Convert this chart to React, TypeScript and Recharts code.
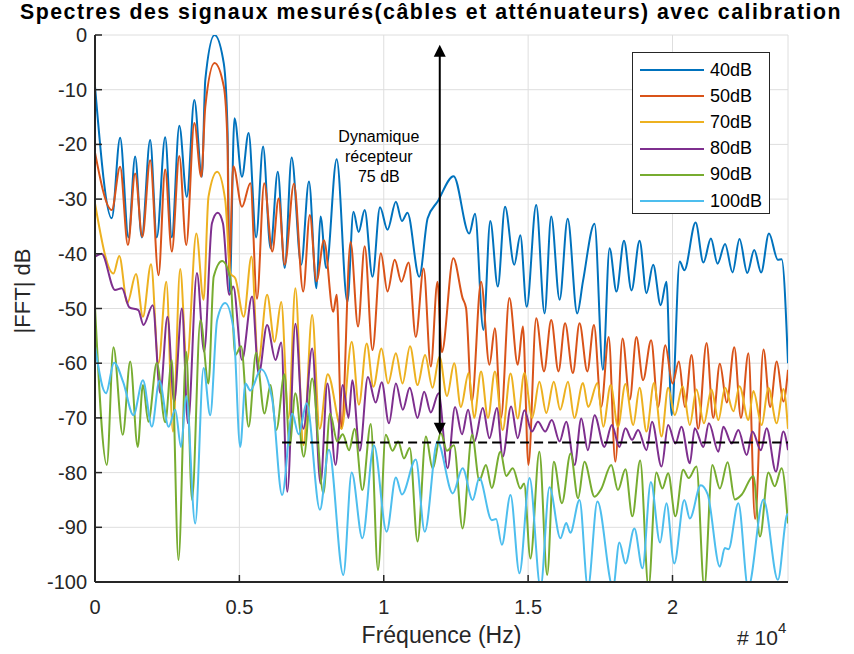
import React from 'react';
import { LineChart, Line, XAxis, YAxis, CartesianGrid, ReferenceLine, ReferenceDot } from 'recharts';

// frequency in units of 1e4 Hz, magnitude in dB
const s40: [number, number][] = [[0,-9.4],[0.058,-33.5],[0.087,-18.8],[0.116,-37],[0.139,-22.2],[0.162,-37],[0.191,-19.2],[0.214,-37],[0.243,-18.7],[0.266,-37],[0.292,-16.6],[0.318,-29.6],[0.344,-11.9],[0.37,-25.9],[0.382,-8.2],[0.414,0],[0.446,-5.2],[0.459,-17.4],[0.466,-47],[0.483,-15.2],[0.509,-25.9],[0.532,-17.9],[0.558,-37],[0.582,-20.4],[0.608,-39],[0.633,-25],[0.657,-42.6],[0.681,-22.4],[0.714,-42],[0.741,-26.8],[0.767,-46.3],[0.781,-33.2],[0.801,-42.6],[0.837,-22.7],[0.874,-48.8],[0.895,-32.3],[0.913,-36],[0.934,-32],[0.961,-44.2],[0.987,-31.5],[1.013,-35.6],[1.042,-30.5],[1.063,-34],[1.082,-32.5],[1.123,-44.2],[1.152,-33.5],[1.186,-30.5],[1.242,-25.8],[1.296,-36.3],[1.316,-32.7],[1.345,-53.9],[1.369,-34],[1.395,-46],[1.42,-31.4],[1.452,-42],[1.473,-36.6],[1.495,-49.7],[1.528,-31.1],[1.557,-50.9],[1.58,-33.2],[1.609,-48.4],[1.637,-33.6],[1.67,-50.9],[1.69,-45],[1.73,-34.5],[1.759,-61.2],[1.782,-39],[1.806,-46.9],[1.832,-37.6],[1.858,-46.7],[1.886,-37.6],[1.91,-47.2],[1.933,-42],[1.959,-49.4],[1.979,-45.1],[1.997,-69.5],[2.025,-41.4],[2.041,-43],[2.08,-34.3],[2.107,-41.6],[2.133,-37.2],[2.156,-41.8],[2.182,-38.2],[2.208,-43.4],[2.232,-37.3],[2.259,-43.5],[2.283,-39.3],[2.307,-43.4],[2.334,-36.3],[2.365,-41.1],[2.378,-41],[2.4,-60]];

const s50: [number, number][] = [[0,-21.5],[0.058,-32],[0.087,-24.1],[0.114,-38.4],[0.139,-25.3],[0.164,-36.9],[0.191,-22.9],[0.22,-43.9],[0.243,-24.6],[0.266,-39.6],[0.292,-22.1],[0.316,-38.4],[0.344,-16.1],[0.368,-25.9],[0.382,-13.1],[0.414,-5.1],[0.446,-9.4],[0.459,-20],[0.464,-44],[0.479,-24],[0.509,-31.4],[0.538,-27.1],[0.561,-48.2],[0.586,-27.1],[0.614,-39.6],[0.636,-29.9],[0.657,-42],[0.689,-27.2],[0.721,-46.9],[0.744,-32.9],[0.767,-45],[0.793,-37.5],[0.825,-50.6],[0.837,-47.5],[0.854,-72],[0.885,-37.8],[0.911,-53.3],[0.934,-38.6],[0.961,-57.6],[0.99,-39.9],[1.013,-46.9],[1.038,-41.1],[1.061,-45.1],[1.086,-41.6],[1.111,-55.2],[1.138,-42.7],[1.163,-60.6],[1.186,-45.1],[1.201,-58],[1.241,-40.8],[1.273,-48.1],[1.285,-49.9],[1.305,-67],[1.337,-45.1],[1.366,-60.3],[1.385,-53.6],[1.406,-70],[1.435,-48.1],[1.464,-60.3],[1.482,-53.3],[1.501,-78.6],[1.528,-51.8],[1.555,-61.5],[1.58,-52.1],[1.605,-61.5],[1.628,-52.7],[1.655,-61.8],[1.678,-52.7],[1.705,-61.5],[1.728,-53],[1.753,-68],[1.779,-55.2],[1.802,-78],[1.827,-55.5],[1.852,-66.7],[1.875,-55.2],[1.898,-63.1],[1.926,-55.8],[1.95,-68],[1.975,-56.7],[2,-63.7],[2.022,-59.7],[2.043,-68],[2.066,-58.5],[2.089,-72],[2.118,-56.3],[2.141,-70],[2.164,-60.1],[2.188,-67.2],[2.214,-57.1],[2.237,-70],[2.263,-58.2],[2.286,-88.5],[2.315,-57.5],[2.338,-68],[2.361,-59.7],[2.384,-67],[2.4,-61.2]];

const s70: [number, number][] = [[0,-30.8],[0.064,-43.6],[0.084,-40.4],[0.112,-49],[0.142,-43.7],[0.166,-51.5],[0.194,-41.9],[0.22,-60],[0.247,-45.1],[0.27,-72.5],[0.295,-42.8],[0.318,-60],[0.351,-36.3],[0.376,-48.4],[0.393,-29.6],[0.423,-25],[0.451,-30.2],[0.469,-43.6],[0.486,-44.5],[0.515,-51.5],[0.542,-40.5],[0.565,-60],[0.596,-47.5],[0.622,-56.1],[0.645,-48.8],[0.67,-70],[0.694,-46.3],[0.722,-75],[0.752,-51.2],[0.778,-72],[0.806,-62],[0.854,-72],[0.889,-56.1],[0.914,-67.6],[0.941,-56.4],[0.964,-64.3],[0.992,-57.3],[1.015,-63.7],[1.042,-58.2],[1.065,-63.7],[1.091,-56.9],[1.117,-64],[1.143,-58.5],[1.169,-64.5],[1.193,-58.8],[1.219,-66],[1.244,-60],[1.267,-68],[1.294,-61.8],[1.313,-70],[1.337,-61.5],[1.361,-70],[1.385,-61.5],[1.412,-72.2],[1.439,-61.9],[1.464,-70.1],[1.487,-61.8],[1.514,-70],[1.539,-63.4],[1.563,-69.1],[1.589,-63.4],[1.611,-68.5],[1.638,-63.4],[1.66,-70],[1.69,-63.6],[1.708,-68],[1.74,-63.6],[1.76,-71.6],[1.786,-64],[1.811,-71.6],[1.837,-63.8],[1.864,-71.3],[1.886,-64.5],[1.91,-72.5],[1.936,-63.6],[1.962,-73.4],[1.985,-64.5],[2.008,-69.5],[2.035,-64.2],[2.06,-71.3],[2.083,-64.8],[2.109,-71],[2.135,-64.8],[2.159,-70.4],[2.182,-64.5],[2.211,-68.8],[2.232,-64.2],[2.263,-70.4],[2.28,-65.1],[2.309,-71.3],[2.332,-64.5],[2.361,-71],[2.384,-64.7],[2.4,-72]];

const s80: [number, number][] = [[0,-40.5],[0.023,-40],[0.069,-46.6],[0.093,-46.3],[0.119,-49.8],[0.15,-50.3],[0.168,-53],[0.2,-49.4],[0.226,-65.5],[0.251,-51.5],[0.274,-67],[0.301,-50],[0.322,-71],[0.353,-43.5],[0.378,-57.9],[0.405,-34.4],[0.425,-32.5],[0.443,-34.4],[0.465,-47.5],[0.479,-46],[0.509,-59.4],[0.544,-47.8],[0.567,-62],[0.596,-53],[0.625,-59.4],[0.645,-56.2],[0.666,-83.5],[0.694,-52.8],[0.722,-72],[0.752,-57.3],[0.781,-82],[0.805,-63.7],[0.833,-78.6],[0.858,-64],[0.878,-70],[0.891,-63.1],[0.917,-76],[0.945,-62.5],[0.972,-67.2],[0.993,-63.5],[1.018,-71],[1.042,-63.7],[1.066,-68.5],[1.09,-64.5],[1.117,-70],[1.14,-65.2],[1.163,-69],[1.19,-65.5],[1.221,-79.2],[1.247,-68],[1.271,-73],[1.292,-68.5],[1.314,-74.3],[1.343,-68.2],[1.366,-73.7],[1.392,-68.2],[1.412,-77.1],[1.441,-67.9],[1.464,-73.7],[1.487,-68.6],[1.513,-72.5],[1.534,-70.7],[1.559,-72.5],[1.582,-70.4],[1.609,-74.3],[1.632,-70.7],[1.661,-78.6],[1.684,-70.1],[1.707,-75.9],[1.73,-69.5],[1.764,-75.3],[1.79,-71.3],[1.816,-75.3],[1.837,-71.9],[1.86,-74],[1.881,-72.2],[1.91,-75.9],[1.929,-70.7],[1.962,-78.9],[1.985,-71.3],[2.01,-74.7],[2.031,-71.6],[2.06,-78.3],[2.077,-71.9],[2.107,-75.3],[2.126,-71],[2.159,-76.2],[2.176,-71.6],[2.205,-74.7],[2.228,-72.2],[2.257,-76.8],[2.277,-72.5],[2.306,-75.9],[2.326,-71.9],[2.358,-79.8],[2.384,-72.5],[2.4,-75.9]];

const s90: [number, number][] = [[0,-49.7],[0.041,-78.6],[0.064,-57.1],[0.096,-73.1],[0.122,-59.7],[0.148,-75.3],[0.166,-64],[0.185,-70.7],[0.214,-59.9],[0.243,-70.8],[0.266,-59.4],[0.289,-96],[0.316,-57.9],[0.336,-85],[0.365,-52.1],[0.393,-63.7],[0.411,-44.2],[0.44,-41.3],[0.469,-44.5],[0.486,-58.5],[0.506,-56.9],[0.532,-71.6],[0.558,-58.1],[0.587,-69.2],[0.608,-64],[0.628,-72.2],[0.656,-62],[0.674,-75],[0.694,-65.5],[0.723,-77.1],[0.752,-62.8],[0.791,-83.8],[0.814,-69.2],[0.839,-74.3],[0.858,-73],[0.88,-75.9],[0.899,-72],[0.926,-83.2],[0.955,-71.1],[0.98,-97.8],[1.007,-73.1],[1.03,-76],[1.05,-74.3],[1.07,-77.4],[1.09,-75.5],[1.117,-92.6],[1.146,-73.4],[1.169,-79.2],[1.198,-72.8],[1.219,-76],[1.243,-75],[1.273,-90.2],[1.306,-73.1],[1.331,-81.4],[1.354,-78.6],[1.374,-82.8],[1.404,-76.2],[1.424,-80.6],[1.447,-79.2],[1.473,-82.9],[1.486,-82],[1.508,-95.7],[1.539,-76.2],[1.566,-98.7],[1.589,-78],[1.617,-85.6],[1.647,-76.5],[1.673,-84.7],[1.695,-78],[1.73,-84.4],[1.753,-83],[1.788,-78.6],[1.811,-83.2],[1.837,-79.4],[1.861,-88],[1.888,-77.8],[1.917,-101],[1.944,-80],[1.965,-82.9],[1.985,-80.1],[2.01,-88],[2.037,-79.5],[2.056,-81],[2.083,-78.9],[2.11,-101],[2.138,-78.6],[2.164,-82.9],[2.191,-78.1],[2.216,-84.9],[2.24,-84],[2.28,-80.6],[2.303,-91.7],[2.332,-80],[2.354,-82.5],[2.378,-79.2],[2.4,-89.3]];

const s100: [number, number][] = [[0,-56.9],[0.038,-65.5],[0.066,-59.9],[0.098,-63.5],[0.133,-69.5],[0.166,-63.1],[0.197,-71.6],[0.223,-63.2],[0.255,-71.6],[0.278,-68.5],[0.298,-75.3],[0.316,-66],[0.347,-89.3],[0.376,-60.9],[0.399,-69.5],[0.423,-52.1],[0.451,-49],[0.48,-53.9],[0.503,-75.3],[0.521,-63.7],[0.538,-65],[0.575,-61.1],[0.614,-66.7],[0.648,-84.1],[0.683,-69.2],[0.705,-73],[0.733,-67.3],[0.779,-86.8],[0.81,-75.8],[0.86,-98.7],[0.889,-80],[0.926,-92],[0.966,-75],[1.01,-90.8],[1.042,-80.9],[1.063,-84],[1.111,-77.6],[1.142,-90.8],[1.186,-74.3],[1.239,-83.8],[1.273,-79.2],[1.308,-85],[1.331,-81],[1.374,-88.7],[1.389,-88.5],[1.409,-93.2],[1.439,-84.1],[1.47,-98.4],[1.505,-81],[1.543,-101],[1.574,-82.7],[1.612,-92],[1.632,-89.2],[1.646,-91],[1.678,-85],[1.707,-101],[1.74,-85.3],[1.794,-101],[1.816,-92.8],[1.837,-96.6],[1.868,-90.2],[1.896,-97.5],[1.925,-81.7],[1.957,-92.8],[1.979,-85.6],[2.006,-96.6],[2.041,-85],[2.06,-88.4],[2.098,-82.3],[2.122,-84],[2.164,-97.2],[2.181,-93.8],[2.194,-94],[2.228,-85.6],[2.262,-101],[2.315,-84.9],[2.365,-99.6],[2.396,-87.8],[2.4,-87.5]];

const SERIES = [
  { name: '40dB', points: s40, color: '#0072BD' },
  { name: '50dB', points: s50, color: '#D95319' },
  { name: '70dB', points: s70, color: '#EDB120' },
  { name: '80dB', points: s80, color: '#7E2F8E' },
  { name: '90dB', points: s90, color: '#77AC30' },
  { name: '100dB', points: s100, color: '#4DBEEE' },
];

const FREQ_TICKS = [0, 0.5, 1, 1.5, 2];
const DB_TICKS = [-100, -90, -80, -70, -60, -50, -40, -30, -20, -10, 0];

// annotation values
const ARROW_X = 1.194;
const ARROW_TOP = -1.8;
const ARROW_BOTTOM = -73.1;
const FLOOR_DB = -74.5;
const FLOOR_START = 0.648;
const NOTE_X = 0.983;
const NOTE_Y = -22.3;
const NOTE_LINES = ['Dynamique', 'récepteur', '75 dB'];

const W = 854;
const H = 654;
const LEFT = 95;
const TOP = 35;
const RIGHT = 788;
const BOTTOM = 582;
const FONT = '"Liberation Sans", Arial, Helvetica, sans-serif';
const AXIS = '#262626';

const XTick = ({ x, payload }: any) => (
  <g>
    <line x1={x} x2={x} y1={BOTTOM} y2={BOTTOM - 7} stroke={AXIS} strokeWidth={1.5} />
    <text x={x} y={BOTTOM + 32} textAnchor="middle" fontSize={20} fill={AXIS} fontFamily={FONT}>
      {String(payload.value)}
    </text>
  </g>
);

const YTick = ({ y, payload }: any) => (
  <g>
    <line x1={LEFT} x2={LEFT + 7} y1={y} y2={y} stroke={AXIS} strokeWidth={1.5} />
    <text x={LEFT - 8} y={y + 7} textAnchor="end" fontSize={20} fill={AXIS} fontFamily={FONT}>
      {String(payload.value)}
    </text>
  </g>
);

const ArrowUp = ({ cx, cy }: any) => (
  <polygon points={`${cx},${cy} ${cx - 6},${cy + 12} ${cx + 6},${cy + 12}`} fill="#000" />
);

const ArrowDown = ({ cx, cy }: any) => (
  <polygon points={`${cx},${cy} ${cx - 6},${cy - 12} ${cx + 6},${cy - 12}`} fill="#000" />
);

const Note = ({ cx, cy }: any) => (
  <text textAnchor="middle" fontSize={16} fontFamily={FONT} fill="#000">
    {NOTE_LINES.map((t, i) => (
      <tspan key={t} x={cx} y={cy - 15 + i * 20}>{t}</tspan>
    ))}
  </text>
);

export default function App() {
  return (
    <div style={{ position: 'absolute', left: 0, top: 0, width: W, height: H, background: '#fff', fontFamily: FONT }}>
      <div
        style={{
          position: 'absolute', left: 4, width: W, top: 0.5, lineHeight: '23.5px', textAlign: 'center',
          fontWeight: 'bold', fontSize: 21.3, letterSpacing: 1.5, color: '#000', whiteSpace: 'nowrap',
        }}
      >
        Spectres des signaux mesurés(câbles et atténuateurs) avec calibration
      </div>
      <LineChart
        width={W}
        height={H}
        margin={{ top: TOP, right: W - RIGHT, bottom: H - BOTTOM - 30, left: LEFT - 60 }}
      >
        <CartesianGrid stroke="#dedede" strokeWidth={1} />
        <XAxis
          type="number"
          dataKey="x"
          domain={[0, 2.4]}
          ticks={FREQ_TICKS}
          allowDataOverflow
          height={30}
          tick={<XTick />}
          tickLine={false}
          axisLine={{ stroke: AXIS, strokeWidth: 2 }}
        />
        <YAxis
          type="number"
          domain={[-100, 0]}
          ticks={DB_TICKS}
          interval={0}
          allowDataOverflow
          width={60}
          tick={<YTick />}
          tickLine={false}
          axisLine={{ stroke: AXIS, strokeWidth: 2 }}
        />
        {SERIES.map((s) => (
          <Line
            key={s.name}
            name={s.name}
            data={s.points.map(([x, y]) => ({ x, y }))}
            dataKey="y"
            type="monotone"
            stroke={s.color}
            strokeWidth={2}
            dot={false}
            isAnimationActive={false}
          />
        ))}
        <ReferenceLine
          segment={[{ x: FLOOR_START, y: FLOOR_DB }, { x: 2.4, y: FLOOR_DB }]}
          stroke="#000"
          strokeWidth={2}
          strokeDasharray="9 5"
        />
        <ReferenceLine
          segment={[{ x: ARROW_X, y: ARROW_TOP - 1 }, { x: ARROW_X, y: ARROW_BOTTOM + 1 }]}
          stroke="#000"
          strokeWidth={2}
        />
        <ReferenceDot x={ARROW_X} y={ARROW_TOP} shape={<ArrowUp />} />
        <ReferenceDot x={ARROW_X} y={ARROW_BOTTOM} shape={<ArrowDown />} />
        <ReferenceDot x={NOTE_X} y={NOTE_Y} shape={<Note />} />
      </LineChart>
      <div style={{ position: 'absolute', left: 0, width: 883, top: 622, textAlign: 'center', fontSize: 23, color: AXIS }}>
        Fréquence (Hz)
      </div>
      <div style={{ position: 'absolute', left: 737, top: 626, fontSize: 21, color: AXIS, whiteSpace: 'nowrap' }}>
        # 10<sup style={{ fontSize: 15, verticalAlign: 'top', position: 'relative', top: -7 }}>4</sup>
      </div>
      <div
        style={{
          position: 'absolute', left: 23, top: 291, fontSize: 22, color: AXIS, whiteSpace: 'nowrap',
          transform: 'translate(-50%, -50%) rotate(-90deg)',
        }}
      >
        |FFT| dB
      </div>
      <div
        style={{
          position: 'absolute', left: 632, top: 52, width: 138, height: 162, border: `1px solid ${AXIS}`,
          background: '#fff', boxSizing: 'border-box', paddingTop: 4,
        }}
      >
        {SERIES.map((s) => (
          <div key={s.name} style={{ display: 'flex', alignItems: 'center', height: 26.2 }}>
            <div style={{ marginLeft: 7, width: 64, height: 2, background: s.color }} />
            <span style={{ marginLeft: 6, fontSize: 18, color: '#000' }}>{s.name}</span>
          </div>
        ))}
      </div>
    </div>
  );
}
